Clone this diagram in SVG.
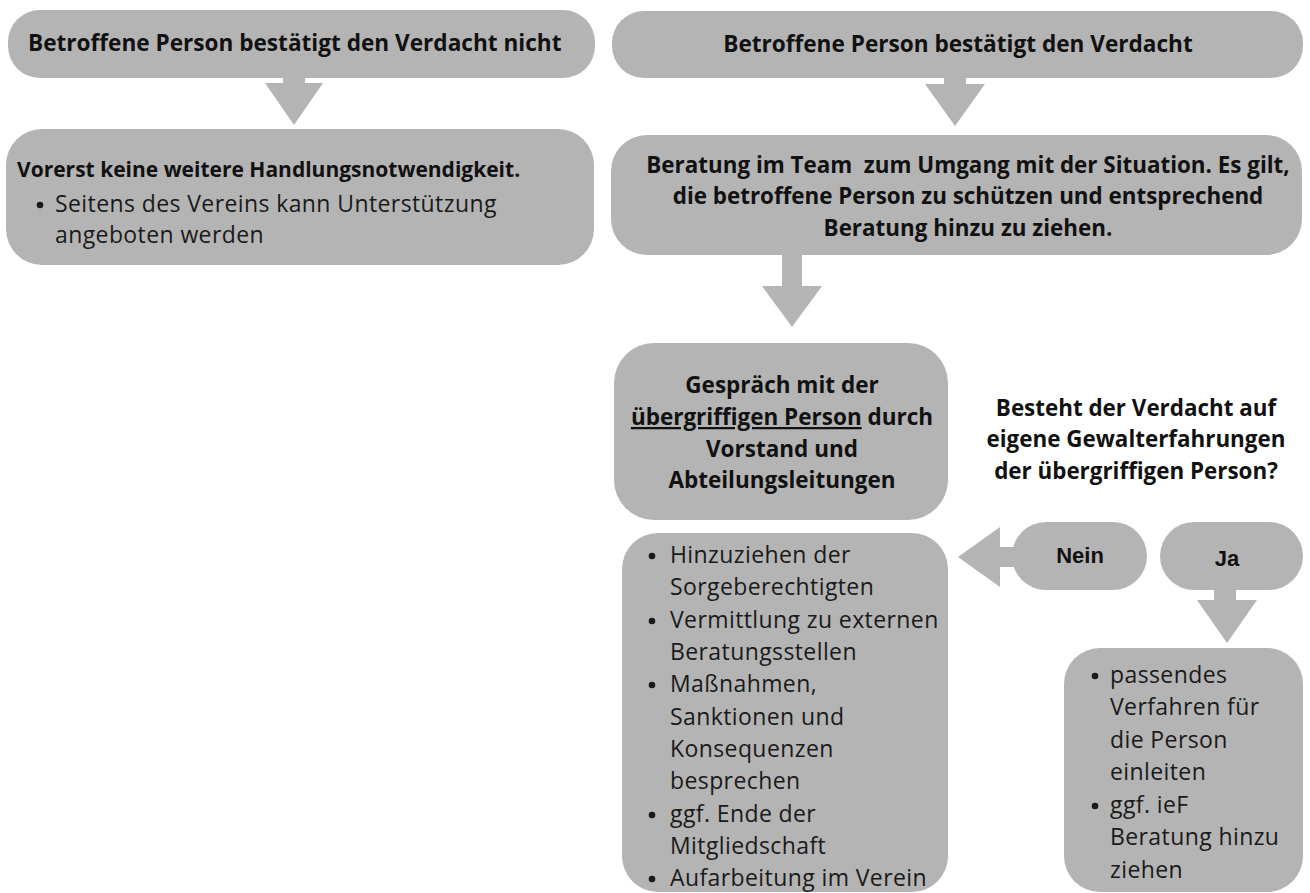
<svg xmlns="http://www.w3.org/2000/svg" width="1310" height="893" viewBox="0 0 1310 893">
<style>
.box{fill:#b4b4b4}
.arr{fill:#b4b4b4}
.dot{fill:#1a1a1a}
.h{font-family:"Open Sans","Noto Sans",sans-serif;font-weight:700;font-size:21.5px;fill:#111}
.hc{font-family:"Open Sans","Noto Sans",sans-serif;font-weight:700;font-size:21.5px;fill:#111;text-anchor:middle}
.big{font-size:22.6px}
.t{font-family:"Open Sans","Noto Sans",sans-serif;font-size:23px;letter-spacing:0.4px;fill:#1a1a1a}
.yn{font-family:"Liberation Sans",Arial,sans-serif;font-weight:700;font-size:22px;fill:#111;text-anchor:middle}
</style>
<rect width="1310" height="893" fill="#ffffff"/>
<g id="connectors">
  <rect class="arr" x="283" y="76" width="22" height="8"/>
  <polygon class="arr" points="265,83 323,83 294,125"/>
  <rect class="arr" x="944" y="77" width="22" height="8"/>
  <polygon class="arr" points="925,84 985,84 955,126"/>
  <rect class="arr" x="782" y="254" width="20" height="33"/>
  <polygon class="arr" points="762,286 822,286 792,327"/>
  <rect class="arr" x="999" y="547" width="18" height="20"/>
  <polygon class="arr" points="1000,527 1000,587 958,557"/>
  <rect class="arr" x="1214" y="588" width="22" height="13"/>
  <polygon class="arr" points="1197,600 1257,600 1227,643"/>
</g>
<g id="n1">
  <rect class="box" x="8" y="10" width="587" height="68" rx="32"/>
  <text class="h big" x="28" y="51">Betroffene Person bestätigt den Verdacht nicht</text>
</g>
<g id="n2">
  <rect class="box" x="612" y="11" width="691" height="67" rx="32"/>
  <text class="hc big" x="958" y="52">Betroffene Person bestätigt den Verdacht</text>
</g>
<g id="n3">
  <rect class="box" x="6" y="129" width="588" height="136" rx="36"/>
  <text class="h" x="17" y="177" style="font-size:21px">Vorerst keine weitere Handlungsnotwendigkeit.</text>
  <circle class="dot" cx="40" cy="205" r="3.3"/>
  <text class="t" x="55" y="212">Seitens des Vereins kann Unterstützung</text>
  <text class="t" x="55" y="243">angeboten werden</text>
</g>
<g id="n4">
  <rect class="box" x="611" y="135" width="691" height="120" rx="36"/>
  <g class="hc" style="font-size:22.4px">
    <text x="968" y="173" xml:space="preserve">Beratung im Team  zum Umgang mit der Situation. Es gilt,</text>
    <text x="968" y="204">die betroffene Person zu schützen und entsprechend</text>
    <text x="968" y="236">Beratung hinzu zu ziehen.</text>
  </g>
</g>
<g id="n5">
  <rect class="box" x="614" y="343" width="334" height="177" rx="40"/>
  <g class="hc" style="font-size:22.5px">
    <text x="782" y="393">Gespräch mit der</text>
    <text x="782" y="425"><tspan text-decoration="underline">übergriffigen Person</tspan> durch</text>
    <text x="782" y="457">Vorstand und</text>
    <text x="782" y="488">Abteilungsleitungen</text>
  </g>
</g>
<g id="q">
  <g class="hc" style="font-size:22.4px">
    <text x="1136" y="416">Besteht der Verdacht auf</text>
    <text x="1136" y="447">eigene Gewalterfahrungen</text>
    <text x="1136" y="479">der übergriffigen Person?</text>
  </g>
</g>
<g id="nein">
  <rect class="box" x="1012" y="522" width="135" height="68" rx="34"/>
  <text class="yn" x="1080" y="563">Nein</text>
</g>
<g id="ja">
  <rect class="box" x="1160" y="522" width="143" height="68" rx="34"/>
  <text class="yn" x="1227" y="566">Ja</text>
</g>
<g id="n6">
  <rect class="box" x="622" y="533" width="326" height="359" rx="36"/>
  <circle class="dot" cx="652" cy="556" r="3.3"/>
  <circle class="dot" cx="652" cy="621" r="3.3"/>
  <circle class="dot" cx="652" cy="685" r="3.3"/>
  <circle class="dot" cx="652" cy="815" r="3.3"/>
  <circle class="dot" cx="652" cy="879" r="3.3"/>
  <g class="t">
    <text x="670" y="563">Hinzuziehen der</text>
    <text x="670" y="595">Sorgeberechtigten</text>
    <text x="670" y="628">Vermittlung zu externen</text>
    <text x="670" y="660">Beratungsstellen</text>
    <text x="670" y="692">Maßnahmen,</text>
    <text x="670" y="725">Sanktionen und</text>
    <text x="670" y="757">Konsequenzen</text>
    <text x="670" y="789">besprechen</text>
    <text x="670" y="822">ggf. Ende der</text>
    <text x="670" y="854">Mitgliedschaft</text>
    <text x="670" y="886">Aufarbeitung im Verein</text>
  </g>
</g>
<g id="n7">
  <rect class="box" x="1064" y="648" width="239" height="244" rx="36"/>
  <circle class="dot" cx="1095" cy="676" r="3.3"/>
  <circle class="dot" cx="1095" cy="806" r="3.3"/>
  <g class="t">
    <text x="1110" y="683">passendes</text>
    <text x="1110" y="715">Verfahren für</text>
    <text x="1110" y="748">die Person</text>
    <text x="1110" y="780">einleiten</text>
    <text x="1110" y="813">ggf. ieF</text>
    <text x="1110" y="845">Beratung hinzu</text>
    <text x="1110" y="878">ziehen</text>
  </g>
</g>
</svg>
